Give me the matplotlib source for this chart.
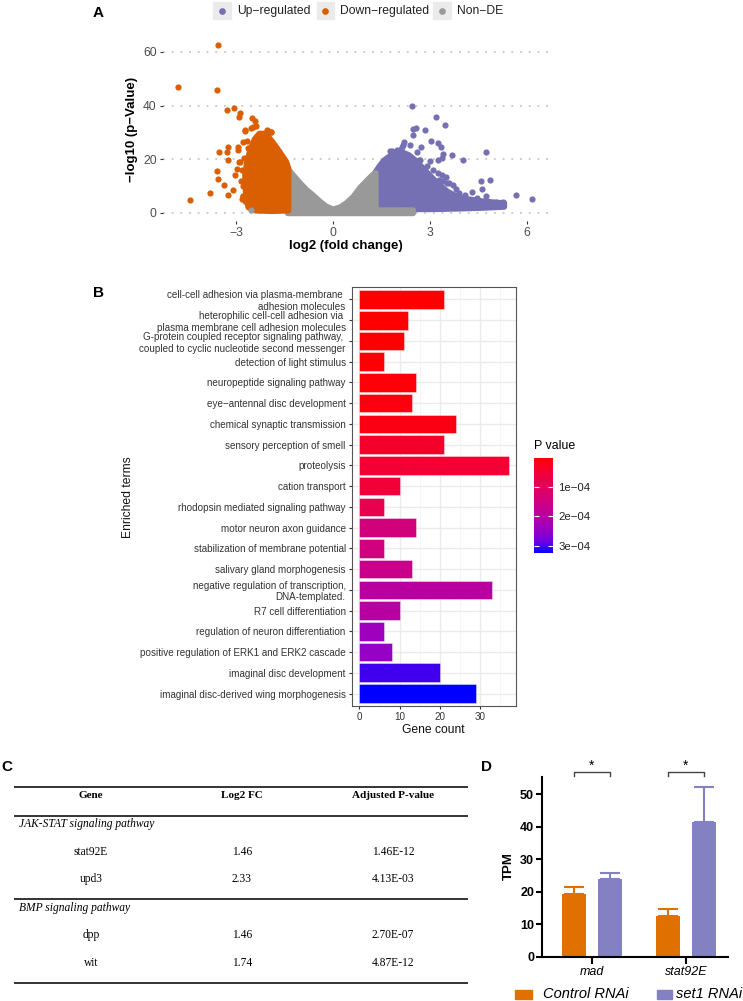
import matplotlib
matplotlib.use('Agg')
import numpy as np
import matplotlib.pyplot as plt
from matplotlib.colors import LinearSegmentedColormap, Normalize
from matplotlib.cm import ScalarMappable
from matplotlib.patches import Rectangle
from matplotlib.lines import Line2D

plt.rcParams['font.family'] = ['Liberation Sans', 'DejaVu Sans']

# ---------------- A: volcano plot (outlying points + outline of the dense clouds)
down_x = [-3.55, -4.80, -3.59, -3.27, -3.07, -2.88, -2.90, -2.52, -2.54, -2.39, -2.73, -2.03, -1.91,
          -3.52, -3.26, -3.29, -2.94, -3.24, -2.90, -3.59, -3.57, -3.38, -3.81, -3.24, -4.43, -3.09,
          -3.03, -2.83, -2.72, -2.80, -2.88, -2.93, -2.72, -2.49, -2.41, -2.00, -1.92, -2.78, -2.83,
          -2.67, -2.96, -2.86, -2.78, -2.75, -2.80, -2.66, -2.62]
down_y = [62.5, 47.0, 45.8, 38.3, 39.1, 37.1, 35.6, 35.3, 31.7, 32.2, 30.6, 30.7, 30.0,
          22.6, 24.6, 22.5, 24.7, 19.8, 18.9, 15.7, 12.7, 10.4, 7.3, 6.5, 4.7, 8.6,
          14.2, 16.0, 4.2, 6.1, 18.8, 23.5, 30.7, 32.0, 34.1, 30.6, 30.0, 6.1, 5.1,
          3.6, 16.5, 12.0, 9.8, 20.5, 26.3, 26.8, 24.0]
up_x = [2.44, 3.20, 3.46, 2.47, 2.57, 2.85, 2.49, 3.02, 3.26, 3.34, 2.72, 3.40, 3.67, 3.37, 4.02,
        4.74, 3.00, 2.67, 2.90, 2.95, 3.28, 3.42, 3.50, 3.73, 3.81, 4.58, 4.86, 4.60, 4.31, 4.74,
        5.66, 6.15, 5.27, 5.06, 2.13, 1.82, 1.97, 2.38, 2.20, 2.05, 2.60, 3.10, 3.25, 3.60, 3.15,
        4.10, 4.45, 3.90, 1.76, 2.18, 2.07, 2.69, 3.26, 3.37, 3.52]
up_y = [39.9, 35.9, 32.6, 31.1, 31.5, 31.0, 29.1, 26.6, 26.0, 24.7, 24.7, 22.0, 21.6, 20.3, 19.5,
        22.8, 19.4, 19.8, 17.3, 13.9, 12.3, 11.7, 13.5, 10.4, 8.8, 11.9, 12.2, 8.8, 7.6, 6.1,
        6.5, 5.2, 4.0, 4.0, 24.7, 22.9, 23.5, 25.4, 26.5, 21.5, 22.5, 16.0, 15.0, 11.0, 9.5,
        6.5, 5.5, 7.5, 22.9, 25.4, 23.5, 19.8, 19.8, 14.2, 11.1]
nonde_x = [-2.54, 1.40, 1.55, 1.70, 1.85, 2.00, 2.15, 2.30, 2.45]
nonde_y = [0.9, 0.5, 0.7, 0.4, 0.8, 0.6, 0.9, 0.5, 0.9]

down_cloud_x = [-2.62, -2.70, -2.72, -2.66, -2.55, -2.42, -2.28, -2.12, -1.98, -1.85, -1.70, -1.56,
                -1.45, -1.38, -1.38, -1.90, -2.40]
down_cloud_y = [2.0, 8.0, 14.0, 19.0, 24.0, 27.5, 29.5, 29.5, 28.0, 26.0, 23.5, 21.0,
                19.0, 16.5, 0.8, 0.6, 0.8]
up_cloud_x = [1.30, 1.30, 1.42, 1.58, 1.75, 1.95, 2.15, 2.35, 2.55, 2.75, 2.95, 3.15, 3.35, 3.55,
              3.85, 4.20, 4.60, 5.00, 5.30, 5.30, 4.60, 3.80, 3.00, 2.20]
up_cloud_y = [0.6, 14.8, 17.0, 19.5, 21.0, 22.0, 22.5, 21.5, 19.5, 17.0, 14.5, 12.0, 9.8, 7.8,
              6.0, 5.0, 4.3, 3.8, 3.6, 2.2, 1.8, 1.5, 1.3, 1.3]
nonde_cloud_x = [-1.40, -1.22, -1.02, -0.82, -0.62, -0.42, -0.22, 0.00, 0.22, 0.42, 0.62, 0.84,
                 1.04, 1.22, 1.32, 1.32, 2.48, 2.48, -1.40]
nonde_cloud_y = [16.3, 13.8, 11.0, 8.5, 6.5, 4.3, 2.4, 1.2, 2.0, 3.6, 5.8, 9.3,
                 11.8, 14.0, 14.8, 0.9, 0.9, -0.2, -0.2]

# ---------------- B: GO enrichment
terms = ["cell-cell adhesion via plasma-membrane \nadhesion molecules",
         "heterophilic cell-cell adhesion via \nplasma membrane cell adhesion molecules",
         "G-protein coupled receptor signaling pathway, \ncoupled to cyclic nucleotide second messenger",
         "detection of light stimulus",
         "neuropeptide signaling pathway",
         "eye\u2212antennal disc development",
         "chemical synaptic transmission",
         "sensory perception of smell",
         "proteolysis",
         "cation transport",
         "rhodopsin mediated signaling pathway",
         "motor neuron axon guidance",
         "stabilization of membrane potential",
         "salivary gland morphogenesis",
         "negative regulation of transcription,\nDNA-templated.",
         "R7 cell differentiation",
         "regulation of neuron differentiation",
         "positive regulation of ERK1 and ERK2 cascade",
         "imaginal disc development",
         "imaginal disc-derived wing morphogenesis"]
gene_count = [21, 12, 11, 6, 14, 13, 24, 21, 37, 10, 6, 14, 6, 13, 33, 10, 6, 8, 20, 29]
p_value = [1.7e-6, 2.5e-6, 3.5e-6, 4.5e-6, 8e-6, 1.46e-5, 1.8e-5, 3.7e-5, 4.7e-5, 5.0e-5,
           8.2e-5, 1.43e-4, 1.47e-4, 1.63e-4, 1.95e-4, 1.98e-4, 2.37e-4, 2.46e-4, 3.01e-4, 3.24e-4]

# ---------------- C: table
pathways = ["JAK-STAT signaling pathway", "BMP signaling pathway"]
table_genes = [["stat92E", "upd3"], ["dpp", "wit"]]
table_fc = [["1.46", "2.33"], ["1.46", "1.74"]]
table_padj = [["1.46E-12", "4.13E-03"], ["2.70E-07", "4.87E-12"]]

# ---------------- D: TPM bars
d_genes = ["mad", "stat92E"]
d_groups = ["Control RNAi", "set1 RNAi"]
ctrl_mean = [19.3, 12.4]
ctrl_err = [2.2, 2.2]
set1_mean = [23.8, 41.3]
set1_err = [1.9, 11.0]

W, H = 743, 1001
fig = plt.figure(figsize=(W / 100, H / 100), dpi=100)


def box(l, t, r, b):
    return [l / W, 1 - b / H, (r - l) / W, (b - t) / H]


# ===== A
c_up, c_down, c_non = '#7570B3', '#D95F02', '#999999'
ax = fig.add_axes(box(163, 37, 550, 221))
ax.set_xlim(-5.263, 6.718)
ax.set_ylim(-3.1, 65.6)
for y in [0, 20, 40, 60]:
    ax.axhline(y, color='#BDBDBD', lw=1.1, ls=(0, (1.2, 4.5)), zorder=0)
ax.fill(up_cloud_x, up_cloud_y, fc=c_up, ec=c_up, lw=4.3, joinstyle='round', zorder=2)
ax.fill(nonde_cloud_x, nonde_cloud_y, fc=c_non, ec=c_non, lw=4.3, joinstyle='round', zorder=3)
ax.fill(down_cloud_x, down_cloud_y, fc=c_down, ec=c_down, lw=4.3, joinstyle='round', zorder=4)
ax.scatter(nonde_x, nonde_y, s=20, color=c_non, lw=0, zorder=5)
ax.scatter(down_x, down_y, s=20, color=c_down, lw=0, zorder=5)
ax.scatter(up_x, up_y, s=20, color=c_up, lw=0, zorder=5)
for s in ax.spines.values():
    s.set_visible(False)
ax.set_xticks([-3, 0, 3, 6])
ax.set_yticks([0, 20, 40, 60])
ax.tick_params(length=2.5, width=0.8, color='#333333', labelcolor='#4D4D4D', labelsize=8.7, pad=2)
ax.set_xlabel('log2 (fold change)', fontsize=9.5, fontweight='bold')
ax.set_ylabel('\u2212log10 (p\u2212Value)', fontsize=9.5, fontweight='bold')
ax.xaxis.set_label_coords(0.473, -0.105)
ax.yaxis.set_label_coords(-0.064, 0.495)

leg_items = [('Up\u2212regulated', c_up, 213.3), ('Down\u2212regulated', c_down, 316.7), ('Non\u2212DE', c_non, 433.3)]
for lab, col, x0 in leg_items:
    fig.patches.append(Rectangle((x0 / W, 1 - 19 / H), 17.4 / W, 17.3 / H, transform=fig.transFigure,
                                 color='#EBEBEB', zorder=1))
    fig.add_artist(Line2D([(x0 + 8.7) / W], [1 - 10.5 / H], marker='o', ms=3.8, color=col, lw=0,
                          transform=fig.transFigure))
    fig.text((x0 + 23.4) / W, 1 - 11 / H, lab, fontsize=8.7, va='center', ha='left', color='#222222')

# ===== B
cmap = LinearSegmentedColormap.from_list('pv', ['#FF0000', '#F40031', '#E80050', '#DA006C', '#C90089',
                                                '#B500A5', '#9A00C2', '#7300E0', '#0000FF'])
norm = Normalize(vmin=min(p_value), vmax=max(p_value))
axb = fig.add_axes(box(352, 287, 516, 706))
ypos = np.arange(len(terms))[::-1]
axb.barh(ypos, gene_count, height=0.9, color=cmap(norm(np.array(p_value))),
         edgecolor=(1, 1, 1, 0.45), lw=0.6, zorder=3)
axb.set_ylim(-0.6, len(terms) - 0.4)
axb.set_xlim(-1.85, 38.85)
axb.set_yticks(ypos)
axb.set_yticklabels(terms)
axb.set_xticks([0, 10, 20, 30])
axb.set_xticks([5, 15, 25, 35], minor=True)
axb.grid(which='major', color='#EBEBEB', lw=1.0, zorder=0)
axb.grid(which='minor', axis='x', color='#F4F4F4', lw=0.6, zorder=0)
axb.set_axisbelow(True)
for s in axb.spines.values():
    s.set_color('#555555')
    s.set_linewidth(0.8)
axb.tick_params(which='major', length=2.5, width=0.8, color='#333333', labelcolor='#333333',
                labelsize=7.1, pad=2)
axb.tick_params(which='minor', length=0)
axb.set_xlabel('Gene count', fontsize=8.7, color='#111111')
axb.set_ylabel('Enriched terms', fontsize=8.7, color='#111111')
axb.xaxis.set_label_coords(0.497, -0.043)
axb.yaxis.set_label_coords(-1.33, 0.499)

cax = fig.add_axes(box(534, 458, 553, 553))
cb = fig.colorbar(ScalarMappable(norm=norm, cmap=cmap), cax=cax)
cb.outline.set_visible(False)
cb.set_ticks([1e-4, 2e-4, 3e-4])
cb.set_ticklabels(['1e\u221204', '2e\u221204', '3e\u221204'])
cax.invert_yaxis()
cax.tick_params(direction='in', length=3.5, width=0.8, color='white', labelsize=8.2, pad=4,
                left=True, right=True, labelcolor='#222222')
fig.text(534 / W, 1 - 446 / H, 'P value', fontsize=8.9, va='center', ha='left')

# ===== C
axc = fig.add_axes([0, 0, 490 / W, 240 / H])
axc.set_xlim(0, 490)
axc.set_ylim(H, H - 240)
axc.axis('off')
serif = ['Liberation Serif', 'DejaVu Serif']
for y in [787, 816, 899, 983]:
    axc.plot([14, 468], [y, y], color='#333333', lw=1.4, solid_capstyle='butt')
col_x = [91, 242, 393]
for x, h in zip(col_x, ['Gene', 'Log2 FC', 'Adjusted P-value']):
    axc.text(x, 795, h, family=serif, fontsize=8, fontweight='bold', ha='center', va='center')
group_y = [824, 908]
row_y = [[852, 879], [935, 963]]
for g in range(len(pathways)):
    axc.text(19, group_y[g], pathways[g], family=serif, style='italic', fontsize=8.3, ha='left', va='center')
    for r in range(2):
        for x, v in zip(col_x, [table_genes[g][r], table_fc[g][r], table_padj[g][r]]):
            axc.text(x, row_y[g][r], v, family=serif, fontsize=8.3, ha='center', va='center')

# ===== D
c_ctrl, c_set1 = '#E07000', '#8481C2'
axd = fig.add_axes(box(541.7, 777.3, 728.3, 956.7))
xg = np.arange(len(d_genes))
off, bw = 0.19, 0.255
axd.bar(xg - off, ctrl_mean, bw, color=c_ctrl, yerr=[[0] * len(xg), ctrl_err], ecolor=c_ctrl,
        capsize=7, error_kw=dict(elinewidth=1.5, capthick=1.5), zorder=2)
axd.bar(xg + off, set1_mean, bw, color=c_set1, yerr=[[0] * len(xg), set1_err], ecolor=c_set1,
        capsize=7, error_kw=dict(elinewidth=1.5, capthick=1.5), zorder=2)
axd.set_xlim(-0.53, 1.45)
axd.set_ylim(0, 55.2)
axd.spines['top'].set_visible(False)
axd.spines['right'].set_visible(False)
axd.spines['left'].set_linewidth(1.5)
axd.spines['bottom'].set_linewidth(1.5)
axd.set_yticks([0, 10, 20, 30, 40, 50])
axd.set_yticklabels(['0', '10', '20', '30', '40', '50'], fontweight='bold')
axd.set_xticks(xg)
axd.set_xticklabels(d_genes, style='italic')
axd.tick_params(axis='y', length=4, width=1.5, labelsize=9, pad=1.5)
axd.tick_params(axis='x', length=5, width=1.5, labelsize=9, pad=2)
axd.set_ylabel('TPM', fontsize=9.5, fontweight='bold')
axd.yaxis.set_label_coords(-0.143, 0.506)
for i in xg:
    axd.plot([i - off, i - off, i + off, i + off], [55.7, 56.9, 56.9, 55.7], color='#444444', lw=1.0,
             clip_on=False)
    axd.text(i, 58.6, '*', ha='center', va='center', fontsize=10, clip_on=False)

# legend for D, placed by hand below the axis
for lab, col, x0, x1, tx in [(d_groups[0], c_ctrl, 515, 531.7, 543), (d_groups[1], c_set1, 656.7, 671.7, 676)]:
    fig.patches.append(Rectangle((x0 / W, 1 - 998.5 / H), (x1 - x0) / W, 9 / H, transform=fig.transFigure,
                                 color=col))
    fig.text(tx / W, 1 - 994 / H, lab, fontsize=10.5, style='italic', va='center', ha='left')

# panel letters
for lab, x, y in [('A', 98, 13), ('B', 98, 293), ('C', 7, 767), ('D', 487, 767)]:
    fig.text(x / W, 1 - y / H, lab, fontsize=11, fontweight='bold', ha='center', va='center')

fig.savefig('out.png', dpi=100)
